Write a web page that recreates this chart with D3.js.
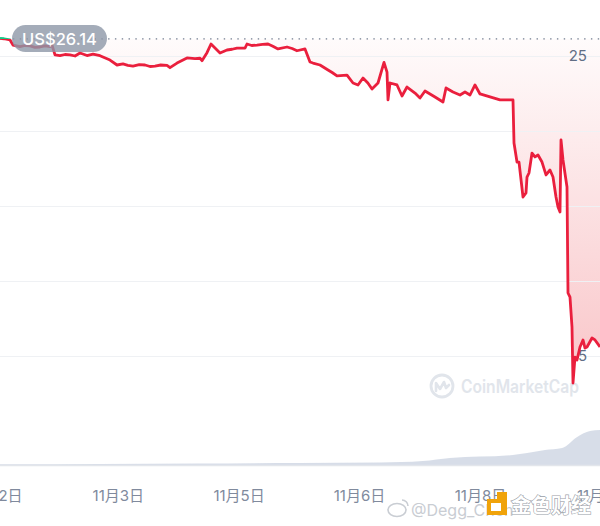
<!DOCTYPE html>
<html>
<head>
<meta charset="utf-8">
<script src="https://cdn.jsdelivr.net/npm/d3@7/dist/d3.min.js"></script>
<style>
  html, body { margin: 0; padding: 0; background: #ffffff; }
  svg { display: block; font-family: Inter, "Noto Sans", "Noto Sans CJK SC", sans-serif; }
</style>
</head>
<body>
<svg id="chart" width="600" height="526"></svg>
<script>
// ---- Data (hours since left edge, price in USD) ----
const hours = [0,1.12,2.8,3.64,5.6,7,8.4,9.8,11.2,12.6,14,14.56,15.4,16.8,18.2,19.6,21,22.4,24.36,26.04,28,30.8,32.76,34.44,35.8,37.24,39,40.6,42,43.4,45,46.76,47.6,49.56,52.36,54.6,56,56.56,57.96,59.08,60.2,61.6,63.56,65,66.36,68.6,69.16,70.5,71.96,73.5,75.04,76.4,77.84,80.36,81.8,83.16,85.4,86.8,87.64,89.6,91.84,93,94.36,97.16,98.84,100.24,101.64,103,104.16,105.84,107.52,108.36,108.64,109.2,111.16,112.56,113.96,116.2,117.6,119,121.8,124.04,124.88,126.84,128.8,130.2,131.6,133,134.4,137.2,140,142.8,143.64,143.92,144.76,145.32,146.44,147.28,147.56,148.12,148.96,149.8,150.64,151.76,152.88,154,154.84,155.68,156.24,156.8,157.08,157.64,158.76,159.04,159.6,160.16,160.44,161,161.56,162.4,163.24,163.8,164.36,165.76,166.6,168];
const prices = [26.17,26.15,26.07,25.73,25.62,25.7,25.67,25.58,25.6,25.68,25.63,25.73,25.07,25.02,25.1,25.07,25.0,25.2,25.03,25.13,25.02,24.73,24.4,24.47,24.38,24.33,24.42,24.4,24.3,24.33,24.4,24.37,24.22,24.53,24.87,24.83,24.85,24.69,25.22,25.8,25.53,25.2,25.4,25.45,25.53,25.53,25.8,25.7,25.73,25.78,25.8,25.65,25.47,25.6,25.5,25.35,25.47,24.6,24.53,24.4,24.07,23.9,23.67,23.73,23.2,23.07,23.53,23.2,22.8,23.2,24.57,23.93,22.07,23.2,23.07,22.33,22.93,22.53,22.2,22.67,22.27,21.93,22.87,22.6,22.4,22.6,22.4,23.07,22.47,22.27,22.07,22.07,22.07,19.2,17.93,17.93,15.6,15.87,16.93,17.2,18.53,18.27,18.4,17.93,17.07,17.4,16.93,15.6,14.93,14.6,19.4,18.07,16.27,9.2,8.93,6.93,3.2,4.93,4.73,5.6,6.07,5.53,5.6,6.2,6.07,5.6];

const volHours = [0,28,56,84,106.4,118.4,126,143.6,147.6,152.6,157.4,161.6,165.2,168];
const volumes  = [70,100,150,200,250,400,700,1000,1200,1500,1700,2800,3400,3500]; // USD millions

const openPrice = 26.14;
const gridValues = [5, 10, 15, 20, 25];
const yLabelValues = [25, 5];
const xTickHours = [-1, 33, 66.8, 100.5, 134.4, 168.6];
const xTickLabels = ["11月2日", "11月3日", "11月5日", "11月6日", "11月8日", "11月9日"];

// ---- Scales ----
const W = 600, H = 526;
const svg = d3.select("#chart");
const x = d3.scaleLinear().domain([0, 168]).range([0, 600]);
const y = d3.scaleLinear().domain([0, 25]).range([431, 56]);
const yv = d3.scaleLinear().domain([0, 4000]).range([465, 425]);

const red = "#ea1f3d", green = "#16c784";
const pts = hours.map((h, i) => [h, prices[i]]);

const defs = svg.append("defs");
const grad = defs.append("linearGradient").attr("id", "redfill")
  .attr("gradientUnits", "userSpaceOnUse")
  .attr("x1", 0).attr("x2", 0).attr("y1", y(openPrice)).attr("y2", y(0));
grad.append("stop").attr("offset", 0).attr("stop-color", "#ea3943").attr("stop-opacity", 0.02);
grad.append("stop").attr("offset", 1).attr("stop-color", "#ea3943").attr("stop-opacity", 0.33);

defs.append("clipPath").attr("id", "below").append("rect")
  .attr("x", 0).attr("y", y(openPrice)).attr("width", W).attr("height", H);
defs.append("clipPath").attr("id", "above").append("rect")
  .attr("x", 0).attr("y", 0).attr("width", W).attr("height", y(openPrice));

// ---- Volume ----
svg.append("path")
  .datum(volHours.map((h, i) => [h, volumes[i]]))
  .attr("d", d3.area().x(d => x(d[0])).y0(yv(0)).y1(d => yv(d[1])).curve(d3.curveMonotoneX))
  .attr("fill", "#d3d9e5").attr("opacity", 0.9);

// bottom axis line
svg.append("line").attr("x1", 0).attr("x2", W).attr("y1", 465.5).attr("y2", 465.5)
  .attr("stroke", "#e3e6eb").attr("stroke-width", 1.5);

// ---- Fill between line and open price ----
svg.append("path").datum(pts)
  .attr("clip-path", "url(#below)")
  .attr("d", d3.area().x(d => x(d[0])).y0(y(openPrice)).y1(d => y(d[1])))
  .attr("fill", "url(#redfill)");

// ---- Gridlines ----
svg.append("g").selectAll("line").data(gridValues).join("line")
  .attr("x1", 0).attr("x2", W)
  .attr("y1", d => Math.round(y(d)) + 0.5).attr("y2", d => Math.round(y(d)) + 0.5)
  .attr("stroke", "#eff1f4").attr("stroke-width", 1);

// ---- Watermark ----
const wm = svg.append("g").attr("fill", "none").attr("stroke", "#e1e5eb");
wm.append("circle").attr("cx", 442).attr("cy", 386).attr("r", 11).attr("stroke-width", 2.8);
wm.append("path").attr("d", "M436,391 L436,383 L440,389 L444,382 L446,388 L449,385")
  .attr("stroke-width", 2.6).attr("stroke-linejoin", "round").attr("stroke-linecap", "round");
svg.append("text").attr("x", 461).attr("y", 393)
  .attr("font-size", 18).attr("font-weight", 600).attr("fill", "#e1e5eb")
  .attr("textLength", 118).attr("lengthAdjust", "spacingAndGlyphs")
  .text("CoinMarketCap");

// ---- Y labels ----
svg.append("g").selectAll("text").data(yLabelValues).join("text")
  .attr("x", 587).attr("y", d => y(d) - 1).attr("text-anchor", "end")
  .attr("dominant-baseline", "central")
  .attr("font-size", 15).attr("fill", "#616e85").text(d => d);

// ---- Open price dotted line ----
svg.append("line").attr("x1", 0).attr("x2", W)
  .attr("y1", y(openPrice)).attr("y2", y(openPrice))
  .attr("stroke", "#8e97a6").attr("stroke-width", 1.6)
  .attr("stroke-dasharray", "0.1 6.7").attr("stroke-linecap", "round");

// ---- Price line ----
const line = d3.line().x(d => x(d[0])).y(d => y(d[1]));
svg.append("path").datum(pts).attr("d", line)
  .attr("clip-path", "url(#below)")
  .attr("fill", "none").attr("stroke", red).attr("stroke-width", 2.8)
  .attr("stroke-linejoin", "round");
svg.append("path").datum(pts).attr("d", line)
  .attr("clip-path", "url(#above)")
  .attr("fill", "none").attr("stroke", green).attr("stroke-width", 2.8)
  .attr("stroke-linejoin", "round");

// ---- Price pill ----
const pill = svg.append("g");
pill.append("rect").attr("x", 12).attr("y", 25).attr("width", 95).attr("height", 27)
  .attr("rx", 13.5).attr("fill", "#8d97a7").attr("opacity", 0.8);
pill.append("text").attr("x", 59.5).attr("y", y(openPrice) + 0.5)
  .attr("text-anchor", "middle").attr("dominant-baseline", "central")
  .attr("font-size", 16.5).attr("font-weight", 500).attr("fill", "#ffffff")
  .text("US$" + openPrice.toFixed(2));

// ---- X axis labels ----
const xAxis = d3.axisBottom(x).tickValues(xTickHours)
  .tickFormat((d, i) => xTickLabels[i]).tickSize(0).tickPadding(0);
const gx = svg.append("g").attr("transform", "translate(0,490)").call(xAxis);
gx.select(".domain").remove();
gx.selectAll("text").attr("font-size", 15).attr("fill", "#808a9d")
  .attr("font-family", "Inter, 'Noto Sans CJK SC', sans-serif");

// ---- Source watermark (Weibo / 金色财经) ----
const wb = svg.append("g");
wb.append("ellipse").attr("cx", 397).attr("cy", 510).attr("rx", 9).attr("ry", 6.5)
  .attr("fill", "none").attr("stroke", "#c9cdd3").attr("stroke-width", 1.6);
wb.append("path").attr("d", "M402,500 A6,6 0 0 1 408,506").attr("fill", "none")
  .attr("stroke", "#c9cdd3").attr("stroke-width", 1.6);
wb.append("text").attr("x", 411).attr("y", 516).attr("font-size", 16)
  .attr("fill", "#c9cdd3").text("@Degg_Chen");
wb.append("path").attr("d", "M487,499 L497,499 L497,492 L507,492 L507,515 L487,515 Z")
  .attr("fill", "#f0a30a");
wb.append("rect").attr("x", 491).attr("y", 503).attr("width", 10).attr("height", 8).attr("fill", "#ffffff");
wb.append("text").attr("x", 511).attr("y", 513).attr("font-size", 20).attr("font-weight", 700)
  .attr("fill", "#ffffff").attr("stroke", "#9aa0a8").attr("stroke-width", 1.2)
  .attr("paint-order", "stroke").text("金色财经");
</script>
</body>
</html>
